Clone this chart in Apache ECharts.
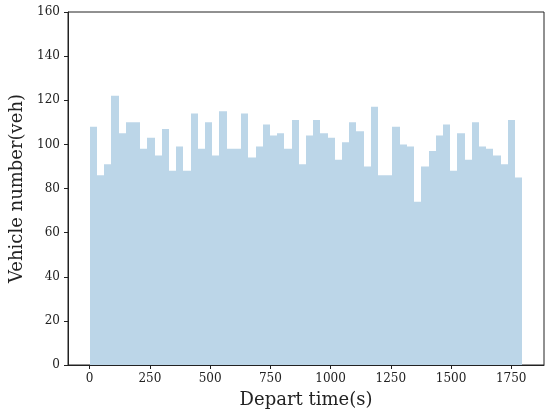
<!DOCTYPE html>
<html>
<head>
<meta charset="utf-8">
<script src="https://cdn.jsdelivr.net/npm/echarts@6/dist/echarts.min.js"></script>
<style>
  html, body { margin: 0; padding: 0; background: #fff; }
  #chart { width: 550px; height: 416px; }
</style>
</head>
<body>
<div id="chart"></div>
<script>
// histogram counts, one per bin of departure time
const counts = [
  108, 86, 91, 122, 105, 110, 110, 98, 103, 95,
  107, 88, 99, 88, 114, 98, 110, 95, 115, 98,
  98, 114, 94, 99, 109, 104, 105, 98, 111, 91,
  104, 111, 105, 103, 93, 101, 110, 106, 90, 117,
  86, 86, 108, 100, 99, 74, 90, 97, 104, 109,
  88, 105, 93, 110, 99, 98, 95, 91, 111, 85
];
const binWidth = 29.93;
const xTicks = [0, 250, 500, 750, 1000, 1250, 1500, 1750];
const yTicks = [0, 20, 40, 60, 80, 100, 120, 140, 160];

const font = 'DejaVu Serif';

// [start, end, count] for each bin
const bins = counts.map((c, i) => [i * binWidth, (i + 1) * binWidth, c]);

let chart = echarts.init(document.getElementById('chart'));
chart.setOption({
  animation: false,
  grid: {
    left: 68, right: 6, top: 12, bottom: 51,
    show: true,
    borderColor: '#222',
    borderWidth: 1,
    backgroundColor: 'transparent'
  },
  xAxis: {
    type: 'value',
    min: -90,
    max: 1886,
    name: 'Depart time(s)',
    nameLocation: 'middle',
    nameGap: 26,
    nameTextStyle: { fontFamily: font, fontSize: 18, color: '#222' },
    axisLine: { show: true, onZero: false, lineStyle: { color: '#222' } },
    axisTick: { show: true, length: 4, customValues: xTicks, lineStyle: { color: '#222' } },
    axisLabel: {
      customValues: xTicks,
      formatter: v => String(v),
      fontFamily: font, fontSize: 12, color: '#222', margin: 8
    },
    splitLine: { show: false }
  },
  yAxis: {
    type: 'value',
    min: 0,
    max: 160,
    interval: 20,
    name: 'Vehicle number(veh)',
    nameLocation: 'middle',
    nameGap: 41,
    nameTextStyle: { fontFamily: font, fontSize: 18, color: '#222' },
    axisLine: { show: true, onZero: false, lineStyle: { color: '#222' } },
    axisTick: { show: true, length: 4, customValues: yTicks, lineStyle: { color: '#222' } },
    axisLabel: { customValues: yTicks, fontFamily: font, fontSize: 12, color: '#222', margin: 8 },
    splitLine: { show: false }
  },
  series: [{
    type: 'custom',
    data: bins,
    encode: { x: [0, 1], y: 2 },
    renderItem: function (params, api) {
      let p0 = api.coord([api.value(0), api.value(2)]);
      let p1 = api.coord([api.value(1), 0]);
      // snap to whole pixels so neighbouring bars meet without seams
      let x0 = Math.round(p0[0]);
      let x1 = Math.round(p1[0]);
      return {
        type: 'rect',
        shape: { x: x0, y: p0[1], width: x1 - x0, height: p1[1] - p0[1] },
        style: { fill: '#bcd6e8' }
      };
    }
  }]
});
</script>
</body>
</html>
